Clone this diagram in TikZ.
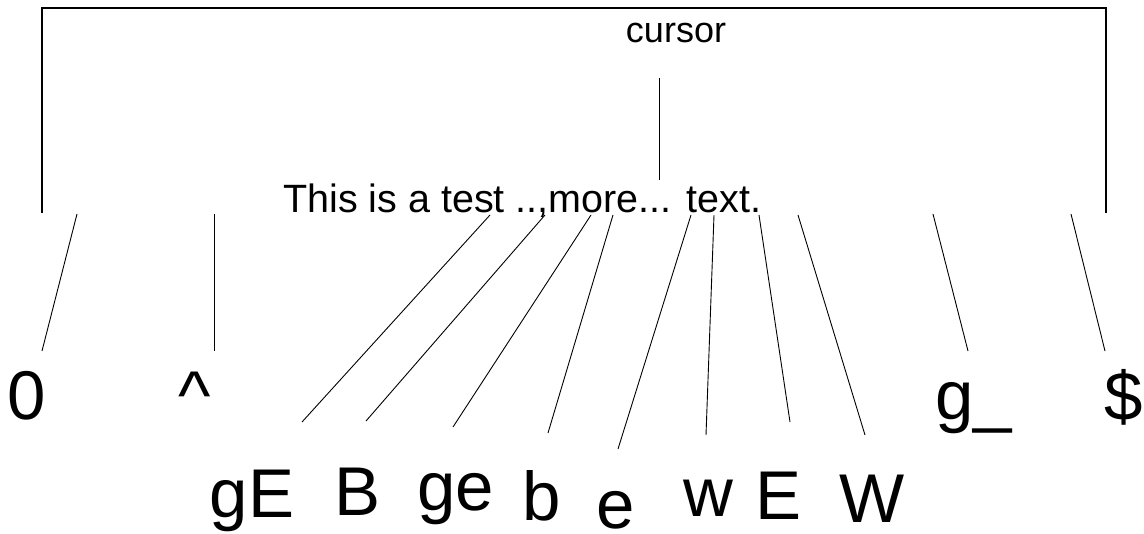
\documentclass[tikz,border=0pt]{standalone}
\usepackage{fontspec}
\setmainfont{Liberation Sans}
\begin{document}
\begin{tikzpicture}[x=1pt,y=-1pt,
  lbl/.style={inner sep=0pt,anchor=base,font=\fontsize{69}{69}\selectfont},
  wire/.style={line width=0.9pt},
  frame/.style={line width=1.2pt}]
\useasboundingbox (0,0) rectangle (1144,534);
% texts
\node[inner sep=0pt,anchor=base west,font=\fontsize{39.5}{39.5}\selectfont] (txt) at (283,213) {This is a test ..,more... text.};
\node[inner sep=0pt,anchor=base,font=\fontsize{36}{36}\selectfont] (cur) at (676,43) {cursor};
% labels
\node[lbl] (l0) at (27,420) {0};
\node[lbl] (lhat) at (195,420) {\^{}};
\node[lbl] (lgu) at (974,420) {g\_};
\node[lbl] (ldol) at (1124,421) {\$};
\node[lbl] (lgE) at (252,518) {gE};
\node[lbl] (lB) at (358,516) {B};
\node[lbl] (lge) at (456,511) {ge};
\node[lbl] (lb) at (542,521) {b};
\node[lbl] (le) at (616,529) {e};
\node[lbl] (lw) at (708,517) {w};
\node[lbl] (lE) at (779,520) {E};
\node[lbl] (lW) at (872,522) {W};
% bracket
\coordinate (bl) at (42,213);
\coordinate (br) at (1106,213);
\coordinate (bt) at (1106,8);
\draw[frame] (bl) |- (bt) -- (br);
\coordinate (cT) at (659,78);
\coordinate (cB) at (659,180);
\draw[wire] (cT) -- (cB);
% connector ends
\coordinate (t0) at (77,214);   \coordinate (b0) at (42,351);
\coordinate (thi) at (214,214); \coordinate (bhi) at (214,351);
\coordinate (tgE) at (490,215); \coordinate (bgE) at (302,422);
\coordinate (tB) at (545,215);  \coordinate (bB) at (366,421);
\coordinate (tge) at (591,215); \coordinate (bge) at (453,427);
\coordinate (tb) at (613,215);  \coordinate (bb) at (548,433);
\coordinate (te) at (691,215);  \coordinate (be) at (618,449);
\coordinate (tw) at (714,215);  \coordinate (bw) at (706,435);
\coordinate (tE) at (759,215);  \coordinate (bE) at (790,422);
\coordinate (tW) at (798,215);  \coordinate (bW) at (865,435);
\coordinate (tgu) at (933,214); \coordinate (bgu) at (968,351);
\coordinate (tdol) at (1071,214); \coordinate (bdol) at (1105,351);
\foreach \n in {0,hi,gE,B,ge,b,e,w,E,W,gu,dol}
  \draw[wire] (t\n) -- (b\n);
\end{tikzpicture}
\end{document}
